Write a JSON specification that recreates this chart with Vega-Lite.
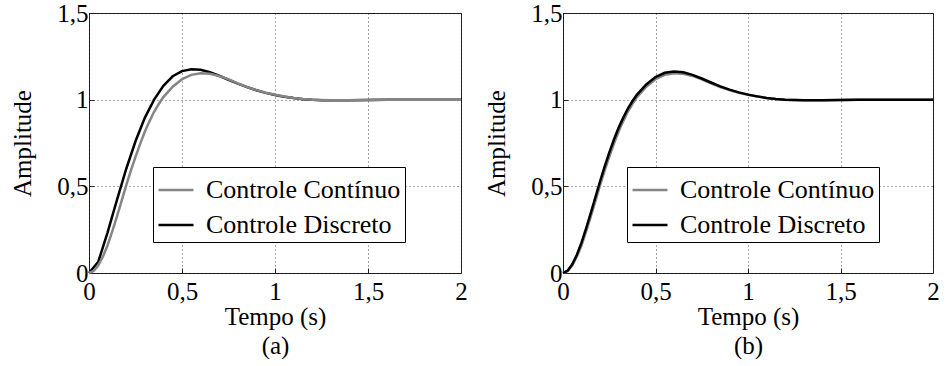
{
  "$schema": "https://vega.github.io/schema/vega-lite/v6.json",
  "background": "white",
  "padding": {"left": 10, "top": 0, "right": 4, "bottom": 0},
  "spacing": 16,
  "datasets": {
    "a": [
      {"s": "Controle Contínuo", "t": 0, "v": 0},
      {"s": "Controle Contínuo", "t": 0.025, "v": 0.012},
      {"s": "Controle Contínuo", "t": 0.05, "v": 0.045},
      {"s": "Controle Contínuo", "t": 0.075, "v": 0.095},
      {"s": "Controle Contínuo", "t": 0.1, "v": 0.16},
      {"s": "Controle Contínuo", "t": 0.125, "v": 0.24},
      {"s": "Controle Contínuo", "t": 0.15, "v": 0.325},
      {"s": "Controle Contínuo", "t": 0.175, "v": 0.415},
      {"s": "Controle Contínuo", "t": 0.2, "v": 0.505},
      {"s": "Controle Contínuo", "t": 0.225, "v": 0.59},
      {"s": "Controle Contínuo", "t": 0.25, "v": 0.67},
      {"s": "Controle Contínuo", "t": 0.275, "v": 0.745},
      {"s": "Controle Contínuo", "t": 0.3, "v": 0.815},
      {"s": "Controle Contínuo", "t": 0.325, "v": 0.875},
      {"s": "Controle Contínuo", "t": 0.35, "v": 0.93},
      {"s": "Controle Contínuo", "t": 0.375, "v": 0.975},
      {"s": "Controle Contínuo", "t": 0.4, "v": 1.015},
      {"s": "Controle Contínuo", "t": 0.45, "v": 1.075},
      {"s": "Controle Contínuo", "t": 0.5, "v": 1.118},
      {"s": "Controle Contínuo", "t": 0.55, "v": 1.143},
      {"s": "Controle Contínuo", "t": 0.6, "v": 1.153},
      {"s": "Controle Contínuo", "t": 0.65, "v": 1.15},
      {"s": "Controle Contínuo", "t": 0.7, "v": 1.137},
      {"s": "Controle Contínuo", "t": 0.75, "v": 1.117},
      {"s": "Controle Contínuo", "t": 0.8, "v": 1.094},
      {"s": "Controle Contínuo", "t": 0.85, "v": 1.073},
      {"s": "Controle Contínuo", "t": 0.9, "v": 1.055},
      {"s": "Controle Contínuo", "t": 0.95, "v": 1.04},
      {"s": "Controle Contínuo", "t": 1.0, "v": 1.028},
      {"s": "Controle Contínuo", "t": 1.05, "v": 1.018},
      {"s": "Controle Contínuo", "t": 1.1, "v": 1.01},
      {"s": "Controle Contínuo", "t": 1.15, "v": 1.004},
      {"s": "Controle Contínuo", "t": 1.2, "v": 1.0},
      {"s": "Controle Contínuo", "t": 1.25, "v": 0.998},
      {"s": "Controle Contínuo", "t": 1.3, "v": 0.997},
      {"s": "Controle Contínuo", "t": 1.4, "v": 0.997},
      {"s": "Controle Contínuo", "t": 1.5, "v": 0.998},
      {"s": "Controle Contínuo", "t": 1.6, "v": 0.999},
      {"s": "Controle Contínuo", "t": 1.7, "v": 1.0},
      {"s": "Controle Contínuo", "t": 1.8, "v": 1.0},
      {"s": "Controle Contínuo", "t": 1.9, "v": 1.0},
      {"s": "Controle Contínuo", "t": 2.0, "v": 1.0},
      {"s": "Controle Discreto", "t": 0, "v": 0},
      {"s": "Controle Discreto", "t": 0.05, "v": 0.065},
      {"s": "Controle Discreto", "t": 0.1, "v": 0.235},
      {"s": "Controle Discreto", "t": 0.15, "v": 0.42},
      {"s": "Controle Discreto", "t": 0.2, "v": 0.6},
      {"s": "Controle Discreto", "t": 0.25, "v": 0.76},
      {"s": "Controle Discreto", "t": 0.3, "v": 0.895},
      {"s": "Controle Discreto", "t": 0.35, "v": 1.0},
      {"s": "Controle Discreto", "t": 0.4, "v": 1.08},
      {"s": "Controle Discreto", "t": 0.45, "v": 1.135},
      {"s": "Controle Discreto", "t": 0.5, "v": 1.165},
      {"s": "Controle Discreto", "t": 0.55, "v": 1.176},
      {"s": "Controle Discreto", "t": 0.6, "v": 1.172},
      {"s": "Controle Discreto", "t": 0.65, "v": 1.158},
      {"s": "Controle Discreto", "t": 0.7, "v": 1.138},
      {"s": "Controle Discreto", "t": 0.75, "v": 1.115},
      {"s": "Controle Discreto", "t": 0.8, "v": 1.093},
      {"s": "Controle Discreto", "t": 0.85, "v": 1.072},
      {"s": "Controle Discreto", "t": 0.9, "v": 1.054},
      {"s": "Controle Discreto", "t": 0.95, "v": 1.039},
      {"s": "Controle Discreto", "t": 1.0, "v": 1.027},
      {"s": "Controle Discreto", "t": 1.05, "v": 1.017},
      {"s": "Controle Discreto", "t": 1.1, "v": 1.009},
      {"s": "Controle Discreto", "t": 1.15, "v": 1.003},
      {"s": "Controle Discreto", "t": 1.2, "v": 0.999},
      {"s": "Controle Discreto", "t": 1.25, "v": 0.997},
      {"s": "Controle Discreto", "t": 1.3, "v": 0.996},
      {"s": "Controle Discreto", "t": 1.4, "v": 0.997},
      {"s": "Controle Discreto", "t": 1.5, "v": 0.998},
      {"s": "Controle Discreto", "t": 1.6, "v": 0.999},
      {"s": "Controle Discreto", "t": 1.7, "v": 1.0},
      {"s": "Controle Discreto", "t": 1.8, "v": 1.0},
      {"s": "Controle Discreto", "t": 1.9, "v": 1.0},
      {"s": "Controle Discreto", "t": 2.0, "v": 1.0}
    ],
    "b": [
      {"s": "Controle Contínuo", "t": 0, "v": 0},
      {"s": "Controle Contínuo", "t": 0.025, "v": 0.012},
      {"s": "Controle Contínuo", "t": 0.05, "v": 0.045},
      {"s": "Controle Contínuo", "t": 0.075, "v": 0.095},
      {"s": "Controle Contínuo", "t": 0.1, "v": 0.16},
      {"s": "Controle Contínuo", "t": 0.125, "v": 0.24},
      {"s": "Controle Contínuo", "t": 0.15, "v": 0.325},
      {"s": "Controle Contínuo", "t": 0.175, "v": 0.415},
      {"s": "Controle Contínuo", "t": 0.2, "v": 0.505},
      {"s": "Controle Contínuo", "t": 0.225, "v": 0.59},
      {"s": "Controle Contínuo", "t": 0.25, "v": 0.67},
      {"s": "Controle Contínuo", "t": 0.275, "v": 0.745},
      {"s": "Controle Contínuo", "t": 0.3, "v": 0.815},
      {"s": "Controle Contínuo", "t": 0.325, "v": 0.875},
      {"s": "Controle Contínuo", "t": 0.35, "v": 0.93},
      {"s": "Controle Contínuo", "t": 0.375, "v": 0.975},
      {"s": "Controle Contínuo", "t": 0.4, "v": 1.015},
      {"s": "Controle Contínuo", "t": 0.45, "v": 1.075},
      {"s": "Controle Contínuo", "t": 0.5, "v": 1.118},
      {"s": "Controle Contínuo", "t": 0.55, "v": 1.143},
      {"s": "Controle Contínuo", "t": 0.6, "v": 1.153},
      {"s": "Controle Contínuo", "t": 0.65, "v": 1.15},
      {"s": "Controle Contínuo", "t": 0.7, "v": 1.137},
      {"s": "Controle Contínuo", "t": 0.75, "v": 1.117},
      {"s": "Controle Contínuo", "t": 0.8, "v": 1.094},
      {"s": "Controle Contínuo", "t": 0.85, "v": 1.073},
      {"s": "Controle Contínuo", "t": 0.9, "v": 1.055},
      {"s": "Controle Contínuo", "t": 0.95, "v": 1.04},
      {"s": "Controle Contínuo", "t": 1.0, "v": 1.028},
      {"s": "Controle Contínuo", "t": 1.05, "v": 1.018},
      {"s": "Controle Contínuo", "t": 1.1, "v": 1.01},
      {"s": "Controle Contínuo", "t": 1.15, "v": 1.004},
      {"s": "Controle Contínuo", "t": 1.2, "v": 1.0},
      {"s": "Controle Contínuo", "t": 1.25, "v": 0.998},
      {"s": "Controle Contínuo", "t": 1.3, "v": 0.997},
      {"s": "Controle Contínuo", "t": 1.4, "v": 0.997},
      {"s": "Controle Contínuo", "t": 1.5, "v": 0.998},
      {"s": "Controle Contínuo", "t": 1.6, "v": 0.999},
      {"s": "Controle Contínuo", "t": 1.7, "v": 1.0},
      {"s": "Controle Contínuo", "t": 1.8, "v": 1.0},
      {"s": "Controle Contínuo", "t": 1.9, "v": 1.0},
      {"s": "Controle Contínuo", "t": 2.0, "v": 1.0},
      {"s": "Controle Discreto", "t": 0, "v": 0},
      {"s": "Controle Discreto", "t": 0.025, "v": 0.013},
      {"s": "Controle Discreto", "t": 0.05, "v": 0.05},
      {"s": "Controle Discreto", "t": 0.075, "v": 0.105},
      {"s": "Controle Discreto", "t": 0.1, "v": 0.175},
      {"s": "Controle Discreto", "t": 0.125, "v": 0.257},
      {"s": "Controle Discreto", "t": 0.15, "v": 0.345},
      {"s": "Controle Discreto", "t": 0.175, "v": 0.437},
      {"s": "Controle Discreto", "t": 0.2, "v": 0.528},
      {"s": "Controle Discreto", "t": 0.225, "v": 0.614},
      {"s": "Controle Discreto", "t": 0.25, "v": 0.695},
      {"s": "Controle Discreto", "t": 0.275, "v": 0.769},
      {"s": "Controle Discreto", "t": 0.3, "v": 0.836},
      {"s": "Controle Discreto", "t": 0.325, "v": 0.895},
      {"s": "Controle Discreto", "t": 0.35, "v": 0.947},
      {"s": "Controle Discreto", "t": 0.375, "v": 0.991},
      {"s": "Controle Discreto", "t": 0.4, "v": 1.029},
      {"s": "Controle Discreto", "t": 0.45, "v": 1.088},
      {"s": "Controle Discreto", "t": 0.5, "v": 1.13},
      {"s": "Controle Discreto", "t": 0.55, "v": 1.155},
      {"s": "Controle Discreto", "t": 0.6, "v": 1.163},
      {"s": "Controle Discreto", "t": 0.65, "v": 1.158},
      {"s": "Controle Discreto", "t": 0.7, "v": 1.143},
      {"s": "Controle Discreto", "t": 0.75, "v": 1.122},
      {"s": "Controle Discreto", "t": 0.8, "v": 1.099},
      {"s": "Controle Discreto", "t": 0.85, "v": 1.077},
      {"s": "Controle Discreto", "t": 0.9, "v": 1.058},
      {"s": "Controle Discreto", "t": 0.95, "v": 1.042},
      {"s": "Controle Discreto", "t": 1.0, "v": 1.029},
      {"s": "Controle Discreto", "t": 1.05, "v": 1.019},
      {"s": "Controle Discreto", "t": 1.1, "v": 1.01},
      {"s": "Controle Discreto", "t": 1.15, "v": 1.004},
      {"s": "Controle Discreto", "t": 1.2, "v": 1.0},
      {"s": "Controle Discreto", "t": 1.25, "v": 0.998},
      {"s": "Controle Discreto", "t": 1.3, "v": 0.997},
      {"s": "Controle Discreto", "t": 1.4, "v": 0.997},
      {"s": "Controle Discreto", "t": 1.5, "v": 0.998},
      {"s": "Controle Discreto", "t": 1.6, "v": 0.999},
      {"s": "Controle Discreto", "t": 1.7, "v": 1.0},
      {"s": "Controle Discreto", "t": 1.8, "v": 1.0},
      {"s": "Controle Discreto", "t": 1.9, "v": 1.0},
      {"s": "Controle Discreto", "t": 2.0, "v": 1.0}
    ]
  },
  "config": {
    "font": "Liberation Serif, DejaVu Serif, serif",
    "view": {"stroke": "#222222", "strokeWidth": 1},
    "axis": {
      "labelFont": "Liberation Serif, DejaVu Serif, serif",
      "titleFont": "Liberation Serif, DejaVu Serif, serif",
      "labelFontSize": 25,
      "titleFontSize": 25,
      "titleFontWeight": "normal",
      "labelColor": "#000000",
      "titleColor": "#000000",
      "domain": false,
      "grid": true,
      "gridColor": "#000000",
      "gridDash": [1, 3],
      "gridWidth": 0.8,
      "gridOpacity": 0.85,
      "tickColor": "#222222",
      "tickSize": -5,
      "format": "~g",
      "labelExpr": "replace(datum.label, '.', ',')"
    },
    "legend": {
      "labelFont": "Liberation Serif, DejaVu Serif, serif",
      "labelFontSize": 26,
      "labelColor": "#000000"
    }
  },
  "hconcat": [
    {
      "width": 372,
      "height": 260,
      "data": {"name": "a"},
      "encoding": {
        "x": {"field": "t", "type": "quantitative", "scale": {"domain": [0, 2], "nice": false},
              "axis": {"values": [0, 0.5, 1, 1.5, 2], "title": ["Tempo (s)", "(a)"], "titleLineHeight": 29, "labelPadding": 11, "titlePadding": 0, "labelFlush": false}},
        "y": {"field": "v", "type": "quantitative", "scale": {"domain": [0, 1.5], "nice": false},
              "axis": {"values": [0, 0.5, 1, 1.5], "title": "Amplitude", "labelPadding": 6, "titlePadding": 21, "labelFlush": false}},
        "color": {"field": "s", "type": "nominal",
                  "scale": {"domain": ["Controle Contínuo", "Controle Discreto"], "range": ["#858585", "#000000"]},
                  "legend": {"orient": "none", "legendX": 64, "legendY": 154, "title": null, "symbolType": "stroke", "symbolSize": 1225, "symbolStrokeWidth": 2.5, "labelOffset": 11, "padding": 4, "rowPadding": 3, "strokeColor": "#000000", "fillColor": "#ffffff", "labelLimit": 400}}
      },
      "layer": [
        {"transform": [{"filter": "datum.s == 'Controle Discreto'"}], "mark": {"type": "line", "strokeWidth": 2.5}},
        {"transform": [{"filter": "datum.s == 'Controle Contínuo'"}], "mark": {"type": "line", "strokeWidth": 2.5}}
      ]
    },
    {
      "width": 370,
      "height": 260,
      "data": {"name": "b"},
      "encoding": {
        "x": {"field": "t", "type": "quantitative", "scale": {"domain": [0, 2], "nice": false},
              "axis": {"values": [0, 0.5, 1, 1.5, 2], "title": ["Tempo (s)", "(b)"], "titleLineHeight": 29, "labelPadding": 11, "titlePadding": 0, "labelFlush": false}},
        "y": {"field": "v", "type": "quantitative", "scale": {"domain": [0, 1.5], "nice": false},
              "axis": {"values": [0, 0.5, 1, 1.5], "title": "Amplitude", "labelPadding": 6, "titlePadding": 21, "labelFlush": false}},
        "color": {"field": "s", "type": "nominal",
                  "scale": {"domain": ["Controle Contínuo", "Controle Discreto"], "range": ["#858585", "#000000"]},
                  "legend": {"orient": "none", "legendX": 64, "legendY": 154, "title": null, "symbolType": "stroke", "symbolSize": 1225, "symbolStrokeWidth": 2.5, "labelOffset": 11, "padding": 4, "rowPadding": 3, "strokeColor": "#000000", "fillColor": "#ffffff", "labelLimit": 400}}
      },
      "layer": [
        {"transform": [{"filter": "datum.s == 'Controle Contínuo'"}], "mark": {"type": "line", "strokeWidth": 2.5}},
        {"transform": [{"filter": "datum.s == 'Controle Discreto'"}], "mark": {"type": "line", "strokeWidth": 2.5}}
      ]
    }
  ],
  "resolve": {"scale": {"color": "independent"}, "legend": {"color": "independent"}}
}
